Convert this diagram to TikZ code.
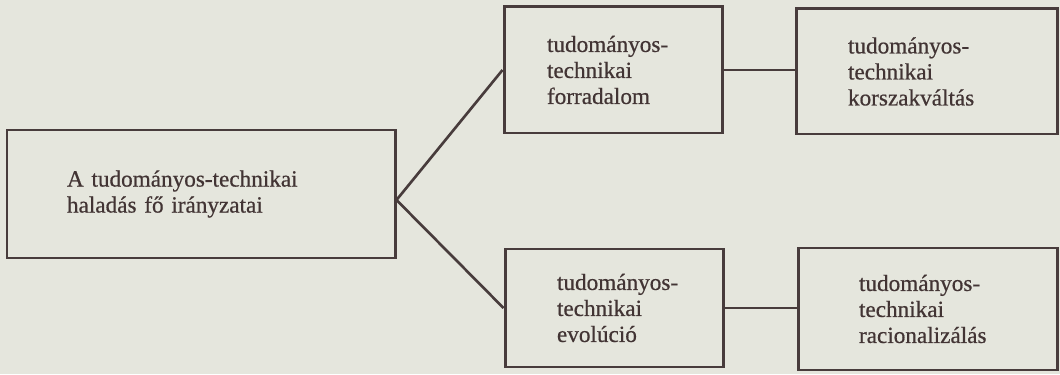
\documentclass[tikz,border=0pt]{standalone}
\usepackage{fontspec}
\setmainfont{Liberation Serif}[FakeBold=0.6]

\definecolor{papir}{RGB}{229,230,221}
\definecolor{vonal}{RGB}{72,60,60}
\definecolor{betu}{RGB}{66,52,52}

\tikzset{
    doboz/.style={draw=vonal, line width=1.7pt, rectangle, align=left,
        text=betu, font=\fontsize{13.2}{14.8}\selectfont\hyphenpenalty10000\exhyphenpenalty10000\relax},
    kapocs/.style={draw=vonal, line width=1.5pt}
}

\begin{document}
\begin{tikzpicture}
    \fill[papir] (0,0) rectangle (21.2,7.48);
    \useasboundingbox (0,0) rectangle (21.2,7.48);

    % fo doboz
    \node[doboz, minimum width=7.76cm, minimum height=2.56cm, text width=5.36cm, text depth=0.62cm]
        (foirany) at (4.02,3.60) {A tudományos-technikai\\haladás fő irányzatai};

    % felso sor
    \node[doboz, minimum width=4.36cm, minimum height=2.52cm, text width=2.64cm]
        (forr) at (12.26,6.08) {tudományos-\\technikai\\forradalom};
    \node[doboz, minimum width=5.22cm, minimum height=2.50cm, text width=3.14cm]
        (korsz) at (18.53,6.05) {tudományos-\\technikai\\korszakváltás};

    % also sor
    \node[doboz, minimum width=4.36cm, minimum height=2.36cm, text width=2.28cm]
        (evol) at (12.28,1.32) {tudományos-\\technikai\\evolúció};
    \node[doboz, minimum width=5.18cm, minimum height=2.44cm, text width=2.74cm]
        (racio) at (18.55,1.30) {tudományos-\\technikai\\racionalizálás};

    \coordinate (elag) at ([yshift=-0.12cm]foirany.east);

    \draw[kapocs] (forr.west) -- (elag) -- (evol.west);
    \draw[kapocs] (forr.east) -- (forr.east -| korsz.west);
    \draw[kapocs] (evol.east) -- (evol.east -| racio.west);
\end{tikzpicture}
\end{document}
